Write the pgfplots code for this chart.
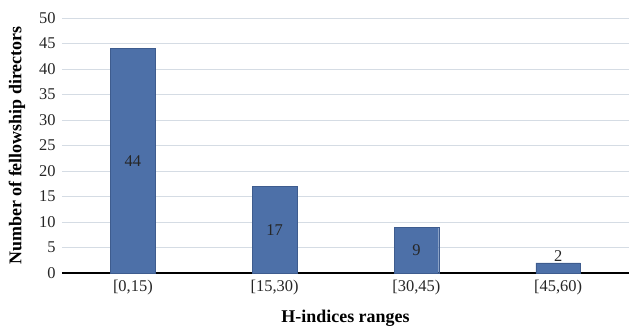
\documentclass[border=0pt]{standalone}
\usepackage{fontspec}
\setmainfont{Liberation Serif}
\usepackage{pgfplots}
\pgfplotsset{compat=1.18}
\definecolor{barblue}{HTML}{4D70A8}
\definecolor{bardark}{HTML}{3E5C8E}
\definecolor{gridc}{HTML}{D5DCE4}
\begin{document}
\begin{tikzpicture}
\path[use as bounding box] (-62bp,-54bp) rectangle (567bp,273bp);
\begin{axis}[
  scale only axis,
  width=567bp, height=255bp,
  xmin=-0.5, xmax=3.5,
  ymin=0, ymax=50,
  ytick={0,5,...,50},
  xtick={0,1,2,3},
  xticklabels={{[0,15)},{[15,30)},{[30,45)},{[45,60)}},
  axis y line=left, axis x line=bottom,
  y axis line style={draw=none},
  x axis line style={black, line width=1.4pt, -},
  ymajorgrids, grid style={gridc, line width=0.8pt},
  major tick length=0pt,
  tick style={draw=none},
  /pgf/number format/assume math mode=true,
  ticklabel style={font=\fontsize{16.5}{18}\selectfont, text=black!85},
  xlabel={\textbf{H-indices ranges}},
  ylabel={\textbf{Number of fellowship directors}},
  label style={font=\fontsize{18}{20}\selectfont},
  xlabel style={at={(axis description cs:0.5,-0.176)}, anchor=center},
  ylabel style={at={(axis description cs:-0.0794,0.5)}, anchor=center},
  yticklabel style={xshift=-3bp},
  xticklabel style={yshift=-4bp},
  ybar, bar width=0.315,
]
\addplot[fill=barblue, draw=bardark, bar shift=0pt] coordinates {(0,44) (1,17) (2,9) (3,2)};
\addplot[only marks, mark=none, bar shift=0pt, point meta=explicit symbolic,
  nodes near coords, every node near coord/.style={anchor=center, font=\fontsize{16.5}{18}\selectfont, text=black!85}]
  coordinates {(0,22)[44] (1,8.5)[17] (2,4.5)[9] (3,3.3)[2]};
\end{axis}
\end{tikzpicture}
\end{document}
